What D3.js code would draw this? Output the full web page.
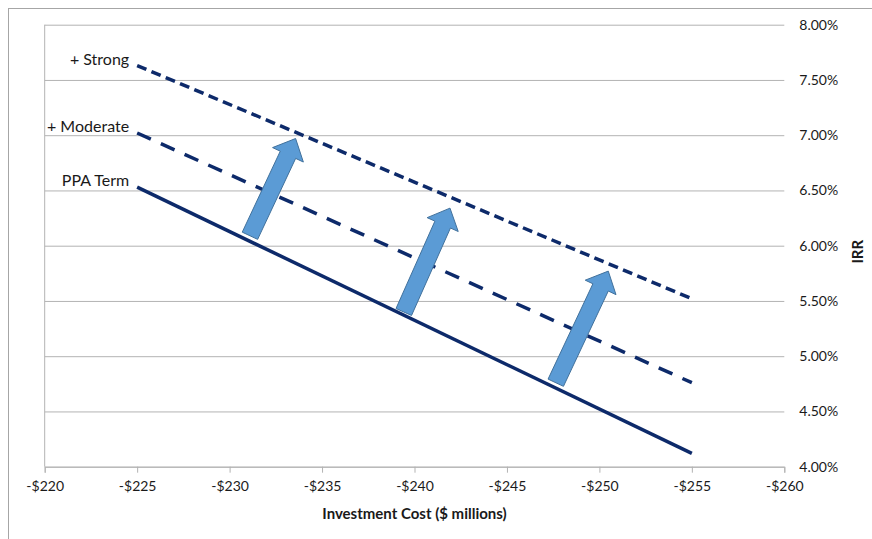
<!DOCTYPE html>
<html lang="en">
<head>
	<meta charset="UTF-8">
	<title>IRR vs Investment Cost</title>
	<script src="https://cdn.jsdelivr.net/npm/d3@7/dist/d3.min.js"></script>
	<style>
		body { margin: 0; background: #fff; }
		text { font-family: Lato, "Open Sans", sans-serif; fill: #1a1a1a; }
		.grid line { stroke: #b3b3b3; stroke-width: 1; }
		.axis path, .axis line { stroke: #b3b3b3; }
	</style>
</head>
<body>
<script type="text/javascript">

	// data
	var costs = [-225, -255];
	var ppaTerm = [6.53, 4.12];
	var moderate = [7.02, 4.76];
	var strong = [7.63, 5.52];
	var seriesNames = ['PPA Term', '+ Moderate', '+ Strong'];
	var xTicks = [-220, -225, -230, -235, -240, -245, -250, -255, -260];
	var yTicks = [4.0, 4.5, 5.0, 5.5, 6.0, 6.5, 7.0, 7.5, 8.0];
	// arrows: [tail cost, tail irr, tip cost, tip irr]
	var arrowsData = [
		[-231.10, 6.09, -233.57, 6.97],
		[-239.42, 5.40, -241.92, 6.34],
		[-247.64, 4.76, -250.48, 5.77]
	];

	var W = 872, H = 539;
	var margin = {top: 24.7, left: 44.7, right: 87.7, bottom: 72.3};
	var width = W - margin.left - margin.right;
	var height = H - margin.top - margin.bottom;

	var svg = d3.select('body').append('svg')
		.attr('width', W)
		.attr('height', H);

	// chart area border
	svg.append('rect')
		.attr('x', 8.5).attr('y', 8.5)
		.attr('width', W + 20).attr('height', H + 20)
		.attr('fill', 'none')
		.attr('stroke', '#a6a6a6');

	var g = svg.append('g')
		.attr('transform', 'translate(' + margin.left + ',' + margin.top + ')');

	var x = d3.scaleLinear().domain([-220, -260]).range([0, width]);
	var y = d3.scaleLinear().domain([4, 8]).range([height, 0]);

	// gridlines + right labels
	var grid = g.append('g')
		.attr('class', 'grid')
		.call(d3.axisRight(y)
			.tickValues(yTicks)
			.tickSize(width)
			.tickPadding(15)
			.tickFormat(function (d) { return d.toFixed(2) + '%'; }));
	grid.select('.domain').remove();
	grid.selectAll('text').style('font-size', '14px').attr('fill', '#1a1a1a');

	// left vertical axis line
	g.append('line')
		.attr('x1', x(-220)).attr('x2', x(-220))
		.attr('y1', y(8)).attr('y2', y(4))
		.attr('stroke', '#b3b3b3');

	// bottom axis
	var ax = g.append('g')
		.attr('class', 'axis')
		.attr('transform', 'translate(0,' + height + ')')
		.call(d3.axisBottom(x)
			.tickValues(xTicks)
			.tickSizeOuter(0)
			.tickSize(6)
			.tickPadding(8)
			.tickFormat(function (d) { return '-$' + Math.abs(d); }));
	ax.selectAll('text').style('font-size', '14px').attr('fill', '#1a1a1a');

	g.append('text')
		.attr('x', x(-240))
		.attr('y', height + 52)
		.attr('text-anchor', 'middle')
		.style('font-size', '15px')
		.style('font-weight', 'bold')
		.text('Investment Cost ($ millions)');

	g.append('text')
		.attr('transform', 'translate(' + (width + 73) + ',' + (y(6) + 6) + ') rotate(-90)')
		.attr('text-anchor', 'middle')
		.attr('dy', '0.35em')
		.style('font-size', '15px')
		.style('font-weight', 'bold')
		.text('IRR');

	// series
	var series = [
		{name: seriesNames[0], values: ppaTerm, dash: null},
		{name: seriesNames[1], values: moderate, dash: '15,11'},
		{name: seriesNames[2], values: strong, dash: '10,5.5'}
	];

	var line = d3.line()
		.x(function (d) { return x(d[0]); })
		.y(function (d) { return y(d[1]); });

	series.forEach(function (s) {
		var pts = costs.map(function (c, i) { return [c, s.values[i]]; });
		g.append('path')
			.datum(pts)
			.attr('d', line)
			.attr('fill', 'none')
			.attr('stroke', '#0d2a6a')
			.attr('stroke-width', 3.5)
			.attr('stroke-dasharray', s.dash);

		g.append('text')
			.attr('x', x(costs[0]) - 8)
			.attr('y', y(s.values[0]) - 1)
			.attr('text-anchor', 'end')
			.style('font-size', '16px')
			.text(s.name);
	});

	// block arrows
	var sw = 17, hw = 34, hl = 18;
	arrowsData.forEach(function (a) {
		var tx = x(a[0]), ty = y(a[1]), px = x(a[2]), py = y(a[3]);
		var dx = px - tx, dy = py - ty;
		var len = Math.sqrt(dx * dx + dy * dy);
		var ux = dx / len, uy = dy / len;
		var nx = -uy, ny = ux;
		var bx = px - ux * hl, by = py - uy * hl;
		var pts = [
			[tx + nx * sw / 2, ty + ny * sw / 2],
			[bx + nx * sw / 2, by + ny * sw / 2],
			[bx + nx * hw / 2, by + ny * hw / 2],
			[px, py],
			[bx - nx * hw / 2, by - ny * hw / 2],
			[bx - nx * sw / 2, by - ny * sw / 2],
			[tx - nx * sw / 2, ty - ny * sw / 2]
		];
		g.append('path')
			.attr('d', 'M' + pts.map(function (p) { return p.join(','); }).join('L') + 'Z')
			.attr('fill', '#5b9bd5')
			.attr('stroke', '#41719c')
			.attr('stroke-width', 1);
	});

</script>
</body>
</html>
